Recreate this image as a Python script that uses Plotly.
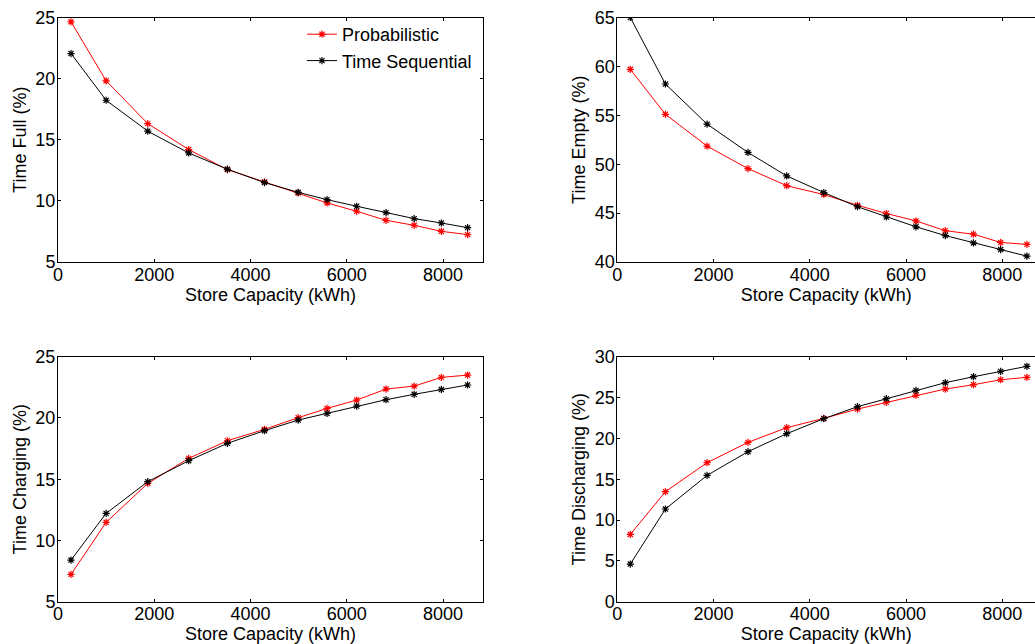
import plotly.graph_objects as go

capacity = [270, 1000, 1865, 2715, 3520, 4290, 4990, 5590, 6205, 6815, 7400, 7965, 8510]

full_prob = [24.65, 19.82, 16.32, 14.20, 12.56, 11.55, 10.65, 9.83, 9.15, 8.41, 8.00, 7.51, 7.24]
full_seq = [22.05, 18.23, 15.70, 13.92, 12.59, 11.50, 10.70, 10.10, 9.56, 9.04, 8.55, 8.19, 7.81]

empty_prob = [59.7, 55.1, 51.85, 49.55, 47.8, 46.9, 45.8, 44.96, 44.2, 43.2, 42.84, 42.0, 41.8]
empty_seq = [65.0, 58.2, 54.1, 51.2, 48.8, 47.1, 45.65, 44.6, 43.6, 42.7, 41.95, 41.27, 40.6]

charg_prob = [7.23, 11.48, 14.66, 16.70, 18.14, 19.07, 20.02, 20.78, 21.46, 22.36, 22.60, 23.31, 23.50]
charg_seq = [8.40, 12.21, 14.80, 16.51, 17.93, 18.96, 19.83, 20.37, 20.97, 21.49, 21.93, 22.33, 22.69]

dis_prob = [8.24, 13.47, 17.02, 19.51, 21.31, 22.45, 23.59, 24.41, 25.27, 26.04, 26.57, 27.18, 27.47]
dis_seq = [4.61, 11.35, 15.47, 18.37, 20.57, 22.41, 23.88, 24.86, 25.88, 26.82, 27.55, 28.20, 28.82]

x_title = "Store Capacity (kWh)"
y_titles = ["Time Full (%)", "Time Empty (%)", "Time Charging (%)", "Time Discharging (%)"]
series_names = ["Probabilistic", "Time Sequential"]
colors = ["#ff0000", "#000000"]

panels = [
    (full_prob, full_seq, [5, 25]),
    (empty_prob, empty_seq, [40, 65]),
    (charg_prob, charg_seq, [5, 25]),
    (dis_prob, dis_seq, [0, 30]),
]

W, H = 1035, 644
xdom_left = [58 / W, 483 / W]
xdom_right = [617.3 / W, 1.0]
ydom_top = [1 - 262 / H, 1 - 17.5 / H]
ydom_bot = [1 - 601.7 / H, 1 - 356.7 / H]
px_per_k = (483 - 58) / 8.83
right_xmax = (1035 - 617.3) / px_per_k * 1000

FONT = "Liberation Sans, Arial, sans-serif"

fig = go.Figure()
layout = {}
for i, (p, s, yr) in enumerate(panels):
    n = "" if i == 0 else str(i + 1)
    for k, (vals, name, col) in enumerate(zip([p, s], series_names, colors)):
        fig.add_trace(go.Scatter(
            x=capacity, y=vals, name=name, mode="lines+markers",
            line=dict(color=col, width=1),
            marker=dict(symbol="asterisk-open", size=6, color=col, line=dict(color=col, width=1.2)),
            showlegend=(i == 0), xaxis="x" + n, yaxis="y" + n,
        ))
    right = i % 2 == 1
    top = i < 2
    layout["xaxis" + n] = dict(
        domain=xdom_right if right else xdom_left,
        anchor="y" + n,
        range=[0, right_xmax if right else 8830],
        tickmode="array", tickvals=[0, 2000, 4000, 6000, 8000],
        ticks="inside", ticklen=3, tickcolor="black",
        showline=True, linecolor="black", linewidth=1, mirror="ticks",
        showgrid=False, zeroline=False, automargin=False,
        ticklabelstandoff=-4,
        title=dict(text=x_title, standoff=1, font=dict(size=18, color="black", family=FONT)),
        tickfont=dict(size=18, color="black", family=FONT),
    )
    layout["yaxis" + n] = dict(
        domain=ydom_top if top else ydom_bot,
        anchor="x" + n,
        range=yr, dtick=5,
        ticks="inside", ticklen=3, tickcolor="black",
        showline=True, linecolor="black", linewidth=1,
        mirror=False if right else "ticks",
        showgrid=False, zeroline=False, automargin=False,
        ticklabelstandoff=-2,
        title=dict(text=y_titles[i], standoff=4, font=dict(size=18, color="black", family=FONT)),
        tickfont=dict(size=18, color="black", family=FONT),
    )

fig.update_layout(
    template="none",
    width=W, height=H,
    margin=dict(l=0, r=0, t=0, b=0, autoexpand=False),
    paper_bgcolor="white", plot_bgcolor="white",
    font=dict(family=FONT, size=18, color="black"),
    legend=dict(x=302 / W, y=1 - 16 / H, xanchor="left", yanchor="top",
                bgcolor="rgba(255,255,255,0)", borderwidth=0,
                font=dict(size=18, color="black", family=FONT),
                itemwidth=30, tracegroupgap=0),
    **layout,
)

fig.write_html("out.html")
